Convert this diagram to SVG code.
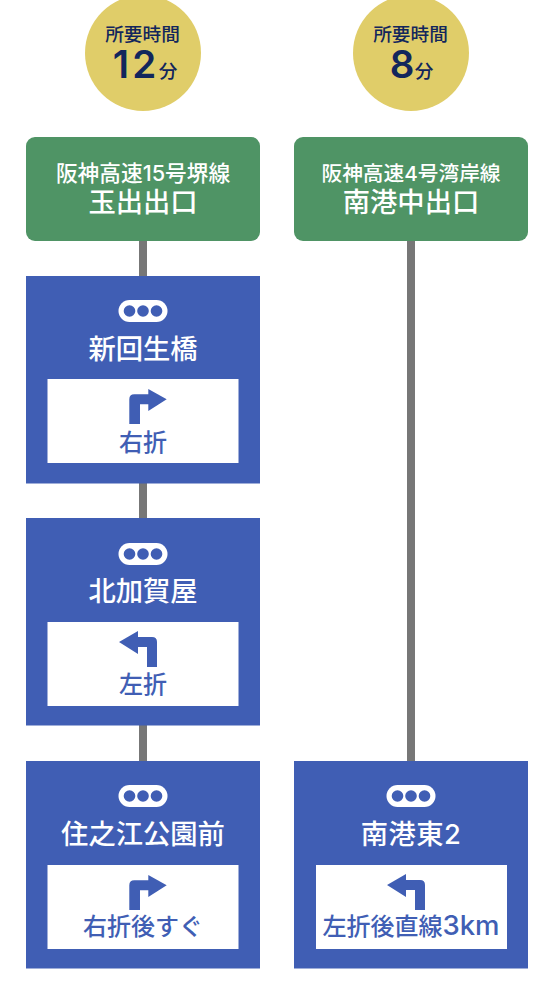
<svg xmlns="http://www.w3.org/2000/svg" width="554" height="981" viewBox="0 0 554 981">
<style>
text{font-family:Inter,"Noto Sans CJK JP","Noto Sans",sans-serif;text-anchor:middle;font-weight:500}
.time{fill:#e0cd69}.navy{fill:#12265c}
.green{fill:#4f9465}.blue{fill:#405eb4}
.w{fill:#fff}.b{fill:#405eb4}
.t1{font-size:18.7px}.t2{font-size:21.7px}.t3{font-size:27.3px}.t4{font-size:24px}
.big{font-size:38.500px;font-weight:600}
</style>
<defs>
<g id="sig"><rect x="-24.500" y="-11" width="49" height="22" rx="11" fill="#fff"/><circle cx="-13.500" r="5.800" class="b"/><circle r="5.800" class="b"/><circle cx="13.500" r="5.800" class="b"/></g>
<path id="right" d="M-13.700 23V-1.700Q-13.700-6.700-8.700-6.700H5.300V-12L23.700-1.700L5.300 10V3.300H-3V23Z"/>
<path id="left" d="M19 23V-2Q19-7 14-7H0V-13L-19-2L0 10V3H9V23Z"/>
</defs>
<g id="connectors" fill="#777">
<rect x="139" y="241" width="8" height="35"/>
<rect x="139" y="483" width="8" height="35"/>
<rect x="139" y="725" width="8" height="36"/>
<rect x="407" y="241" width="8" height="523"/>
</g>
<g id="time-12">
<circle cx="143" cy="53" r="58" class="time"/>
<text x="142.500" y="41" class="t1 navy">所要時間</text>
<text x="136" y="77.500" class="big navy" letter-spacing="3">12</text><text x="168" y="78" class="t1 navy">分</text>
</g>
<g id="time-8">
<circle cx="411" cy="53" r="58" class="time"/>
<text x="410.500" y="41" class="t1 navy">所要時間</text>
<text x="402" y="77.500" class="big navy">8</text><text x="424" y="78" class="t1 navy">分</text>
</g>
<g id="start-1">
<rect x="26" y="137" width="234" height="104" rx="9" class="green"/>
<text x="143" y="181" class="t2 w">阪神高速15号堺線</text>
<text x="143" y="212" class="t3 w">玉出出口</text>
</g>
<g id="start-2">
<rect x="294" y="137" width="234" height="104" rx="9" class="green"/>
<text x="411" y="181" class="w" font-size="20.700">阪神高速4号湾岸線</text>
<text x="411" y="212" class="t3 w">南港中出口</text>
</g>
<g id="node-1">
<rect x="26" y="276" width="234" height="207.500" class="b"/>
<use href="#sig" x="143" y="311"/>
<text x="143" y="359" class="t3 w">新回生橋</text>
<rect x="47.500" y="379" width="191" height="84" class="w"/>
<use href="#right" x="143" y="401" class="b"/>
<text x="143" y="451" class="t4 b">右折</text>
</g>
<g id="node-2">
<rect x="26" y="518" width="234" height="207.500" class="b"/>
<use href="#sig" x="143" y="554"/>
<text x="143" y="601" class="t3 w">北加賀屋</text>
<rect x="47.500" y="622" width="191" height="84" class="w"/>
<use href="#left" x="138" y="644" class="b"/>
<text x="143" y="693" class="t4 b">左折</text>
</g>
<g id="node-3">
<rect x="26" y="761" width="234" height="207.500" class="b"/>
<use href="#sig" x="143" y="796"/>
<text x="143" y="844" class="t3 w">住之江公園前</text>
<rect x="47.500" y="865" width="191" height="84" class="w"/>
<use href="#right" x="143" y="887" class="b"/>
<text x="143" y="935" class="t4 b">右折後すぐ</text>
</g>
<g id="node-4">
<rect x="294" y="761" width="234" height="207.500" class="b"/>
<use href="#sig" x="411" y="796"/>
<text x="411" y="844" class="t3 w" letter-spacing="0.500">南港東2</text>
<rect x="316" y="865" width="191" height="84" class="w"/>
<use href="#left" x="406" y="887" class="b"/>
<text x="411" y="935" class="t4 b">左折後直線<tspan font-size="27.500">3km</tspan></text>
</g>
</svg>
